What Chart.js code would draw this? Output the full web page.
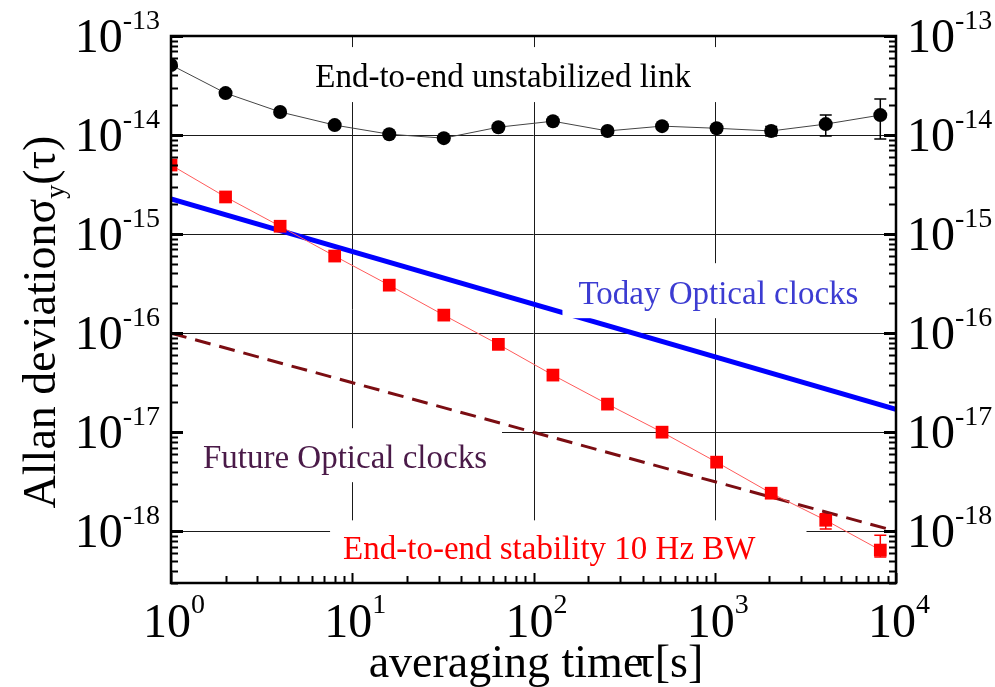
<!DOCTYPE html>
<html>
<head>
<meta charset="utf-8">
<script src="https://cdn.jsdelivr.net/npm/chart.js@4.4.0/dist/chart.umd.min.js"></script>
<style>
  html, body { margin: 0; padding: 0; background: #fff; }
  #wrap { width: 995px; height: 687px; }
</style>
</head>
<body>
<div id="wrap"><canvas id="chart" width="995" height="687"></canvas></div>
<script>
// averaging times (s)
const tau = [1, 2, 4, 8, 16, 32, 64, 128, 256, 512, 1024, 2048, 4096, 8192];

// end-to-end unstabilized link
const unstab = [5.1e-14, 2.65e-14, 1.71e-14, 1.26e-14, 1.02e-14, 9.3e-15, 1.2e-14,
                1.38e-14, 1.1e-14, 1.23e-14, 1.17e-14, 1.1e-14, 1.29e-14, 1.59e-14];
const unstabLo = [null, null, null, null, null, null, null, null, null, null, null, 9.8e-15, 9.8e-15, 9.1e-15];
const unstabHi = [null, null, null, null, null, null, null, null, null, null, null, 1.22e-14, 1.59e-14, 2.31e-14];

// end-to-end stability, 10 Hz BW
const stab = [4.98e-15, 2.37e-15, 1.2e-15, 6.0e-16, 3.05e-16, 1.52e-16, 7.7e-17,
              3.77e-17, 1.92e-17, 1.0e-17, 4.98e-18, 2.42e-18, 1.29e-18, 6.45e-19];
const stabLo = [null, null, null, null, null, null, null, null, null, null, null, 2.25e-18, 1.05e-18, 5.5e-19];
const stabHi = [null, null, null, null, null, null, null, null, null, null, null, 2.6e-18, 1.5e-18, 9.1e-19];

// clock reference lines
const clockTau = [1, 10000];
const todayClocks = [2.26e-15, 1.7e-17];
const futureClocks = [1e-16, 1e-18];

// axis ranges
const xRange = [1, 1e4];
const yRange = [3e-19, 1e-13];

const SERIF = "'Liberation Serif', 'Times New Roman', serif";

// in-plot labels, anchored in data coordinates; pad = white box around text [top, right, bottom, left]
const notes = [
  { text: 'End-to-end unstabilized link', x: 6.25, y: 3.05e-14, color: '#000000', pad: [40, 27, 15, 15] },
  { text: 'Today Optical clocks', x: 177, y: 1.96e-16, color: '#3c3cd2', pad: [41, 10, 14, 16] },
  { text: 'Future Optical clocks', x: 1.5, y: 4.33e-18, color: '#4a1a48', pad: [40, 15, 14, 28] },
  { text: 'End-to-end stability 10 Hz BW', x: 8.9, y: 5.2e-19, color: '#ff0000', pad: [39, 51, 24, 13] }
];

const pts = (xs, ys) => xs.map((v, i) => ({ x: v, y: ys[i] }));

function decadeExps(scale) {
  const out = [];
  const lo = Math.ceil(Math.log10(scale.min) - 1e-9);
  const hi = Math.floor(Math.log10(scale.max) + 1e-9);
  for (let e = lo; e <= hi; e++) out.push(e);
  return out;
}

function minorValues(scale) {
  const out = [];
  const lo = Math.floor(Math.log10(scale.min));
  const hi = Math.ceil(Math.log10(scale.max));
  for (let e = lo; e <= hi; e++) {
    for (let k = 1; k <= 9; k++) {
      const v = k * Math.pow(10, e);
      if (v >= scale.min * 0.999 && v <= scale.max * 1.001) out.push({ v, major: k === 1 });
    }
  }
  return out;
}

function drawErrorBars(ctx, x, y, xs, lo, hi, color) {
  ctx.strokeStyle = color;
  ctx.lineWidth = 1.5;
  xs.forEach((t, i) => {
    if (lo[i] == null || hi[i] == null) return;
    const px = x.getPixelForValue(t);
    const p1 = y.getPixelForValue(hi[i]);
    const p2 = y.getPixelForValue(lo[i]);
    ctx.beginPath();
    ctx.moveTo(px, p1); ctx.lineTo(px, p2);
    ctx.moveTo(px - 6, p1); ctx.lineTo(px + 6, p1);
    ctx.moveTo(px - 6, p2); ctx.lineTo(px + 6, p2);
    ctx.stroke();
  });
}

// "10" with a raised exponent
function powLabel(ctx, e, anchorX, baseY, align, rise) {
  ctx.font = `48px ${SERIF}`;
  const w10 = ctx.measureText('10').width;
  ctx.font = `28px ${SERIF}`;
  const es = String(e);
  const we = ctx.measureText(es).width;
  const total = w10 + we;
  let x0 = anchorX;
  if (align === 'right') x0 = anchorX - total;
  else if (align === 'center') x0 = anchorX - total / 2;
  ctx.textAlign = 'left';
  ctx.textBaseline = 'alphabetic';
  ctx.font = `48px ${SERIF}`;
  ctx.fillText('10', x0, baseY);
  ctx.font = `28px ${SERIF}`;
  ctx.fillText(es, x0 + w10, baseY - rise);
}

const decorations = {
  id: 'decorations',
  beforeDatasetsDraw(chart) {
    const { ctx, chartArea: a, scales: { x, y } } = chart;
    ctx.save();
    // grid at decades only
    ctx.strokeStyle = '#1a1a1a';
    ctx.lineWidth = 1;
    ctx.beginPath();
    decadeExps(x).forEach(e => {
      const px = Math.round(x.getPixelForValue(Math.pow(10, e))) + 0.5;
      ctx.moveTo(px, a.top); ctx.lineTo(px, a.bottom);
    });
    decadeExps(y).forEach(e => {
      const py = Math.round(y.getPixelForValue(Math.pow(10, e))) + 0.5;
      ctx.moveTo(a.left, py); ctx.lineTo(a.right, py);
    });
    ctx.stroke();
    drawErrorBars(ctx, x, y, tau, unstabLo, unstabHi, '#000000');
    drawErrorBars(ctx, x, y, tau, stabLo, stabHi, '#ff0000');
    ctx.restore();
  },
  afterDatasetsDraw(chart) {
    const { ctx, chartArea: a, scales: { x, y } } = chart;
    ctx.save();

    // text labels on white boxes
    ctx.font = `33px ${SERIF}`;
    ctx.textAlign = 'left';
    ctx.textBaseline = 'alphabetic';
    notes.forEach(n => {
      const px = x.getPixelForValue(n.x);
      const py = y.getPixelForValue(n.y);
      const w = ctx.measureText(n.text).width;
      const [pt, pr, pb, pl] = n.pad;
      ctx.fillStyle = '#ffffff';
      ctx.fillRect(px - pl, py - pt, w + pl + pr, pt + pb);
      ctx.fillStyle = n.color;
      ctx.fillText(n.text, px, py);
    });

    // inward ticks on left, right and bottom
    ctx.strokeStyle = '#000';
    minorValues(y).forEach(t => {
      const py = Math.round(y.getPixelForValue(t.v)) + 0.5;
      const len = t.major ? 12 : 7;
      ctx.lineWidth = t.major ? 3 : 2;
      ctx.beginPath();
      ctx.moveTo(a.left, py); ctx.lineTo(a.left + len, py);
      ctx.moveTo(a.right, py); ctx.lineTo(a.right - len, py);
      ctx.stroke();
    });
    minorValues(x).forEach(t => {
      const px = Math.round(x.getPixelForValue(t.v)) + 0.5;
      const len = t.major ? 10 : 7;
      ctx.lineWidth = 2;
      ctx.beginPath();
      ctx.moveTo(px, a.bottom); ctx.lineTo(px, a.bottom - len);
      ctx.stroke();
    });

    // frame
    ctx.lineWidth = 2.5;
    ctx.strokeRect(a.left, a.top, a.right - a.left, a.bottom - a.top);

    // tick labels
    ctx.fillStyle = '#000';
    decadeExps(y).forEach(e => {
      const py = y.getPixelForValue(Math.pow(10, e));
      powLabel(ctx, e, a.left - 11, py + 16, 'right', 23);
      powLabel(ctx, e, a.right + 11, py + 16, 'left', 23);
    });
    decadeExps(x).forEach(e => {
      const px = x.getPixelForValue(Math.pow(10, e));
      powLabel(ctx, e, px + 3, a.bottom + 54, 'center', 24);
    });

    // x axis title (tau tucked against "time" as in the original)
    ctx.font = `46px ${SERIF}`;
    ctx.textAlign = 'left';
    const xt = [{ s: 'averaging time', k: 0 }, { s: '\u03c4', k: -7 }, { s: '[s]', k: 0 }];
    let xw = 0;
    xt.forEach(p => { p.w = ctx.measureText(p.s).width; xw += p.w + p.k; });
    let xx = 536 - xw / 2;
    xt.forEach(p => { xx += p.k; ctx.fillText(p.s, xx, 677); xx += p.w; });

    // y axis title
    ctx.translate(55, 322);
    ctx.rotate(-Math.PI / 2);
    const big = `46px ${SERIF}`, small = `28px ${SERIF}`;
    const parts = [
      { s: 'Allan deviation\u03c3', f: big, dy: 0 },
      { s: 'y', f: small, dy: 9 },
      { s: '(\u03c4)', f: big, dy: 0 }
    ];
    let total = 0;
    parts.forEach(p => { ctx.font = p.f; p.w = ctx.measureText(p.s).width; total += p.w; });
    let cx = -total / 2;
    parts.forEach(p => { ctx.font = p.f; ctx.fillText(p.s, cx, p.dy); cx += p.w; });

    ctx.restore();
  }
};

new Chart(document.getElementById('chart'), {
  type: 'line',
  data: {
    datasets: [
      {
        label: 'End-to-end stability 10 Hz BW',
        data: pts(tau, stab),
        borderColor: '#ff5a5a',
        borderWidth: 1,
        backgroundColor: '#ff0000',
        pointStyle: 'rect',
        pointRadius: 9,
        pointBorderWidth: 0,
        tension: 0
      },
      {
        label: 'End-to-end unstabilized link',
        data: pts(tau, unstab),
        borderColor: '#444444',
        borderWidth: 1,
        backgroundColor: '#000000',
        pointStyle: 'circle',
        pointRadius: 7,
        pointBorderWidth: 0,
        tension: 0
      },
      {
        label: 'Today Optical clocks',
        data: pts(clockTau, todayClocks),
        borderColor: '#0000ff',
        borderWidth: 5,
        pointRadius: 0,
        tension: 0
      },
      {
        label: 'Future Optical clocks',
        data: pts(clockTau, futureClocks),
        borderColor: '#7b0d12',
        borderWidth: 3,
        borderDash: [16, 9],
        pointRadius: 0,
        tension: 0
      }
    ]
  },
  options: {
    responsive: false,
    animation: false,
    layout: { padding: { left: 171, right: 99, top: 36, bottom: 104 } },
    plugins: { legend: { display: false }, tooltip: { enabled: false } },
    scales: {
      x: { type: 'logarithmic', min: xRange[0], max: xRange[1], display: false },
      y: { type: 'logarithmic', min: yRange[0], max: yRange[1], display: false }
    }
  },
  plugins: [decorations]
});
</script>
</body>
</html>
